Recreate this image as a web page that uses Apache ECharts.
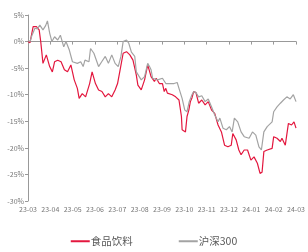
<!DOCTYPE html>
<html>
<head>
<meta charset="utf-8">
<script src="https://cdn.jsdelivr.net/npm/echarts@6/dist/echarts.min.js"></script>
<style>
  html, body { margin: 0; padding: 0; background: #fff; }
  #chart { width: 308px; height: 252px; }
</style>
</head>
<body>
<div id="chart"></div>
<script>
  // 月份刻度
  var monthLabels = ['23-03', '23-04', '23-05', '23-06', '23-07', '23-08', '23-09',
    '23-10', '23-11', '23-12', '24-01', '24-02', '24-03'];
  var yTicks = [5, 0, -5, -10, -15, -20, -25, -30];

  // 食品饮料 (位置以月为单位, 数值 %)
  var foodX = [0, 0.09, 0.23, 0.38, 0.50, 0.57, 0.67, 0.82, 0.97, 1.09, 1.19, 1.33, 1.48, 1.63, 1.77, 1.92,
    2.07, 2.21, 2.29, 2.43, 2.58, 2.76, 2.87, 3.02, 3.16, 3.31, 3.46, 3.60, 3.75, 3.90, 4.01, 4.12,
    4.26, 4.41, 4.56, 4.70, 4.85, 4.92, 5.00, 5.07, 5.22, 5.36, 5.51, 5.66, 5.74, 5.88, 6.02, 6.10,
    6.17, 6.24, 6.46, 6.61, 6.76, 6.87, 6.90, 7.05, 7.12, 7.20, 7.27, 7.34, 7.42, 7.52, 7.64, 7.78,
    7.93, 8.07, 8.22, 8.36, 8.51, 8.66, 8.80, 8.95, 9.10, 9.17, 9.32, 9.44, 9.54, 9.68, 9.83, 9.98,
    10.12, 10.27, 10.39, 10.48, 10.56, 10.71, 10.93, 11.00, 11.15, 11.30, 11.37, 11.52, 11.66, 11.80, 11.91, 12.00];
  var foodY = [0, -0.2, 2.8, 2.8, 2.2, 0, -4.1, -2.5, -4.7, -5.7, -3.8, -3.5, -3.8, -5.3, -5.7, -4.4,
    -7.2, -8.8, -10.7, -9.8, -10.4, -7.9, -5.7, -7.9, -9.1, -9.4, -10.4, -9.8, -10.4, -9.1, -7.9, -5.4,
    -2.2, -1.9, -2.5, -3.5, -6.3, -8.2, -7.9, -9.1, -7.2, -4.4, -6.6, -7.5, -6.9, -7.9, -7.9, -9.4,
    -8.8, -9.7, -10.0, -10.4, -11.0, -14.1, -16.6, -17.0, -14.1, -12.9, -11.3, -10.6, -9.4, -9.6, -11.6, -11.0,
    -11.9, -11.3, -12.9, -13.5, -15.7, -17.0, -19.5, -19.8, -19.5, -17.3, -18.5, -20.4, -21.3, -20.4, -20.4, -22.3,
    -21.7, -22.9, -24.8, -24.6, -20.7, -20.4, -20.1, -17.9, -18.2, -18.8, -18.2, -19.5, -15.4, -15.7, -15.1, -16.3];

  // 沪深300
  var hsX = [0, 0.09, 0.18, 0.31, 0.42, 0.53, 0.67, 0.79, 0.87, 0.97, 1.07, 1.19, 1.33, 1.45, 1.60, 1.70,
    1.85, 1.99, 2.07, 2.21, 2.36, 2.47, 2.55, 2.73, 2.80, 2.95, 3.16, 3.30, 3.46, 3.60, 3.75, 3.90,
    4.04, 4.16, 4.26, 4.41, 4.51, 4.63, 4.78, 4.85, 4.92, 5.07, 5.22, 5.36, 5.44, 5.51, 5.58, 5.80,
    6.02, 6.17, 6.24, 6.54, 6.68, 6.76, 6.90, 7.02, 7.12, 7.22, 7.34, 7.42, 7.52, 7.64, 7.78, 7.93,
    8.07, 8.22, 8.36, 8.51, 8.59, 8.73, 8.88, 9.02, 9.14, 9.24, 9.39, 9.54, 9.68, 9.76, 9.90, 10.05,
    10.20, 10.34, 10.45, 10.56, 10.71, 10.93, 11.00, 11.15, 11.30, 11.44, 11.59, 11.74, 11.88, 12.00];
  var hsY = [0.2, 0, 1.2, 2.5, 2.4, 3.1, 2.2, 3.0, 3.9, 1.6, 0, 0.9, 0.3, 1.2, -1.0, 0,
    -1.6, -3.8, -3.8, -4.1, -3.8, -4.7, -3.5, -3.8, -1.3, -2.2, -4.7, -3.8, -2.8, -4.1, -2.5, -4.1,
    -4.7, -2.8, 0, 0.3, -0.3, -2.0, -2.8, -5.7, -6.0, -7.2, -6.6, -4.1, -4.7, -5.3, -6.9, -7.2,
    -6.9, -7.9, -7.9, -7.9, -7.7, -8.8, -10.7, -12.9, -13.2, -11.3, -10.0, -9.4, -9.6, -10.4, -10.2, -11.3,
    -10.8, -12.3, -13.8, -15.1, -14.4, -16.3, -16.6, -16.0, -17.0, -14.4, -15.1, -17.0, -17.9, -17.6, -18.2, -17.0,
    -17.6, -19.8, -20.4, -17.0, -16.0, -15.1, -13.2, -12.3, -11.6, -11.0, -10.4, -10.8, -10.0, -11.3];

  function pairs(xs, ys) {
    var out = [];
    for (var i = 0; i < xs.length; i++) {
      out.push([xs[i], ys[i]]);
    }
    return out;
  }

  var narrow = '"Liberation Sans Narrow", "Noto Sans CJK SC", sans-serif';
  var chart = echarts.init(document.getElementById('chart'));
  chart.setOption({
    animation: false,
    grid: { left: 28, right: 7, top: 15, bottom: 51 },
    legend: {
      top: 236,
      left: 'center',
      padding: 0,
      itemGap: 46,
      itemWidth: 19,
      itemHeight: 2,
      icon: 'rect',
      textStyle: { fontSize: 10.5, color: '#595959', fontFamily: '"Noto Sans CJK SC", sans-serif', padding: [0, 0, 0, -4] },
      data: ['食品饮料', '沪深300']
    },
    xAxis: {
      type: 'value',
      min: 0,
      max: 12,
      interval: 1,
      splitLine: { show: false },
      axisLine: { lineStyle: { color: '#999', width: 1 } },
      axisTick: { show: true, length: 3, lineStyle: { color: '#999' } },
      axisLabel: {
        fontSize: 7,
        color: '#777',
        fontFamily: narrow,
        margin: 5,
        formatter: function (v) { return monthLabels[Math.round(v)] || ''; }
      }
    },
    yAxis: {
      type: 'value',
      min: yTicks[yTicks.length - 1],
      max: yTicks[0],
      interval: 5,
      splitLine: { show: false },
      axisLine: { show: true, lineStyle: { color: '#999', width: 1 } },
      axisTick: { show: true, length: 3, lineStyle: { color: '#999' } },
      axisLabel: {
        fontSize: 7,
        color: '#777',
        fontFamily: narrow,
        margin: 4,
        formatter: function (v) { return v + '%'; }
      }
    },
    series: [
      {
        name: '食品饮料',
        type: 'line',
        data: pairs(foodX, foodY),
        showSymbol: false,
        symbol: 'none',
        lineStyle: { color: '#e3173e', width: 1.2 },
        itemStyle: { color: '#e3173e' }
      },
      {
        name: '沪深300',
        type: 'line',
        data: pairs(hsX, hsY),
        showSymbol: false,
        symbol: 'none',
        lineStyle: { color: '#a3a3a3', width: 1.2 },
        itemStyle: { color: '#a3a3a3' }
      }
    ]
  });
</script>
</body>
</html>
